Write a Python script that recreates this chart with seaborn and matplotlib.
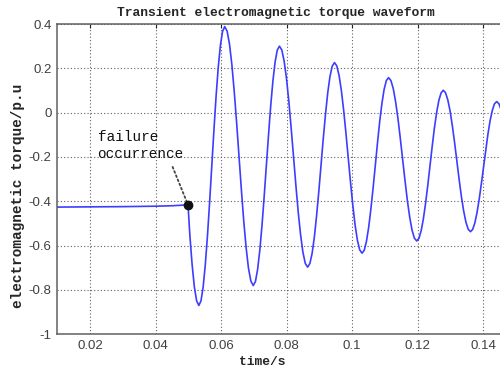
import matplotlib
matplotlib.use('Agg')
import matplotlib.pyplot as plt
import seaborn as sns
import pandas as pd

# torque curve (s, p.u)
time_s = [
    0.0100, 0.0200, 0.0300, 0.0400, 0.0450, 0.0499,
    0.05047, 0.05115, 0.05183, 0.05252,
    0.0532, 0.05386, 0.05452, 0.05517, 0.05583, 0.05649, 0.05715, 0.05781, 0.05846, 0.05912, 0.05978, 0.06044, 0.0611,
    0.06183, 0.06255, 0.06328, 0.0640, 0.06473, 0.06545, 0.06618, 0.0669, 0.06763, 0.06835, 0.06908, 0.0698,
    0.07047, 0.07113, 0.0718, 0.07247, 0.07313, 0.0738, 0.07447, 0.07513, 0.0758, 0.07647, 0.07713, 0.0778,
    0.07852, 0.07923, 0.07995, 0.08067, 0.08138, 0.0821, 0.08282, 0.08353, 0.08425, 0.08497, 0.08568, 0.0864,
    0.08708, 0.08777, 0.08845, 0.08913, 0.08982, 0.0905, 0.09118, 0.09187, 0.09255, 0.09323, 0.09392, 0.0946,
    0.0953, 0.0960, 0.0967, 0.0974, 0.0981, 0.0988, 0.0995, 0.1002, 0.1009, 0.1016, 0.1023, 0.1030,
    0.10368, 0.10435, 0.10503, 0.1057, 0.10638, 0.10705, 0.10773, 0.1084, 0.10908, 0.10975, 0.11043, 0.1111,
    0.11182, 0.11253, 0.11325, 0.11397, 0.11468, 0.1154, 0.11612, 0.11683, 0.11755, 0.11827, 0.11898, 0.1197,
    0.12038, 0.12105, 0.12173, 0.1224, 0.12308, 0.12375, 0.12443, 0.1251, 0.12578, 0.12645, 0.12713, 0.1278,
    0.12849, 0.12918, 0.12988, 0.13057, 0.13126, 0.13195, 0.13264, 0.13333, 0.13403, 0.13472, 0.13541, 0.1361,
    0.13677, 0.13743, 0.1381, 0.13877, 0.13943, 0.1401, 0.14077, 0.14143, 0.1421, 0.14277, 0.14343, 0.1441,
    0.1448, 0.1455, 0.1462, 0.1469,
]
torque = [
    -0.426, -0.425, -0.424, -0.422, -0.420, -0.416,
    -0.556, -0.686, -0.786, -0.849,
    -0.870, -0.849, -0.786, -0.686, -0.556, -0.404, -0.241, -0.078, 0.074, 0.204, 0.304, 0.367, 0.388,
    0.368, 0.310, 0.217, 0.096, -0.045, -0.196, -0.347, -0.488, -0.609, -0.702, -0.760, -0.780,
    -0.762, -0.708, -0.622, -0.510, -0.380, -0.240, -0.100, 0.030, 0.142, 0.228, 0.282, 0.300,
    0.283, 0.233, 0.154, 0.051, -0.070, -0.199, -0.328, -0.448, -0.551, -0.630, -0.680, -0.697,
    -0.681, -0.635, -0.562, -0.466, -0.355, -0.236, -0.116, -0.005, 0.091, 0.164, 0.210, 0.226,
    0.211, 0.168, 0.100, 0.011, -0.093, -0.204, -0.315, -0.419, -0.508, -0.576, -0.619, -0.634,
    -0.621, -0.581, -0.518, -0.436, -0.341, -0.238, -0.136, -0.040, 0.042, 0.105, 0.145, 0.158,
    0.145, 0.109, 0.050, -0.026, -0.115, -0.211, -0.306, -0.395, -0.471, -0.530, -0.566, -0.579,
    -0.567, -0.533, -0.479, -0.409, -0.327, -0.239, -0.151, -0.069, 0.001, 0.055, 0.089, 0.101,
    0.090, 0.058, 0.008, -0.059, -0.135, -0.218, -0.301, -0.378, -0.444, -0.494, -0.526, -0.537,
    -0.527, -0.498, -0.451, -0.390, -0.320, -0.244, -0.168, -0.097, -0.036, 0.010, 0.040, 0.050,
    0.040, 0.011, -0.036, -0.097,
]

fault_t = 0.0499
fault_y = -0.416
note_text = 'failure\noccurrence'
note_pos = (0.0223, -0.148)
note_tail = (0.0452, -0.245)

x_ticks = [0.02, 0.04, 0.06, 0.08, 0.1, 0.12, 0.14]
x_labels = ['0.02', '0.04', '0.06', '0.08', '0.1', '0.12', '0.14']
y_ticks = [-1, -0.8, -0.6, -0.4, -0.2, 0, 0.2, 0.4]
y_labels = ['-1', '-0.8', '-0.6', '-0.4', '-0.2', '0', '0.2', '0.4']

df = pd.DataFrame({'t': time_s, 'Te': torque})

sns.set_style('white')
plt.rcParams['font.family'] = ['Liberation Sans', 'DejaVu Sans']
mono = ['Liberation Mono', 'DejaVu Sans Mono']

fig = plt.figure(figsize=(5, 3.7), dpi=100)
ax = fig.add_axes([0.1146, 0.0965, 0.9174, 0.8386])

sns.lineplot(data=df, x='t', y='Te', ax=ax, color='#3d3dff', lw=1.2,
             estimator=None, sort=False)
ax.plot([fault_t], [fault_y], 'o', color='#111111', ms=6, zorder=5)

ax.annotate('', xy=(fault_t, fault_y), xytext=note_tail,
            arrowprops=dict(arrowstyle='-', linestyle=(0, (1, 1.5)),
                            color='#444444', lw=1.3, shrinkA=0, shrinkB=2))
ax.text(note_pos[0], note_pos[1], note_text, family=mono, fontsize=10.4,
        color='#111111', ha='left', va='center', linespacing=1.3)

ax.set_xlim(0.01, 0.15)
ax.set_ylim(-1, 0.4)
ax.set_xticks(x_ticks)
ax.set_xticklabels(x_labels)
ax.set_yticks(y_ticks)
ax.set_yticklabels(y_labels)
ax.tick_params(direction='in', length=3, width=0.8, color='#222222',
               labelsize=9.5, labelcolor='#404040', top=True, right=True,
               pad=4)
ax.grid(True, linestyle=(0, (1, 2)), color='#606060', lw=0.8)
for s in ax.spines.values():
    s.set_color('#606060')
    s.set_linewidth(1.1)

ax.set_xlabel('time/s', family=mono, fontweight='bold', fontsize=9.4,
              va='center')
ax.xaxis.set_label_coords(0.446, -0.088)
ax.set_ylabel('electromagnetic torque/p.u', family=mono, fontweight='bold',
              fontsize=10.4, va='center')
ax.yaxis.set_label_coords(-0.085, 0.447)
ax.set_title('Transient electromagnetic torque waveform', family=mono,
             fontweight='bold', fontsize=9.4, x=0.477, y=1.036, va='center',
             pad=0)

fig.savefig('out.png', dpi=100)
